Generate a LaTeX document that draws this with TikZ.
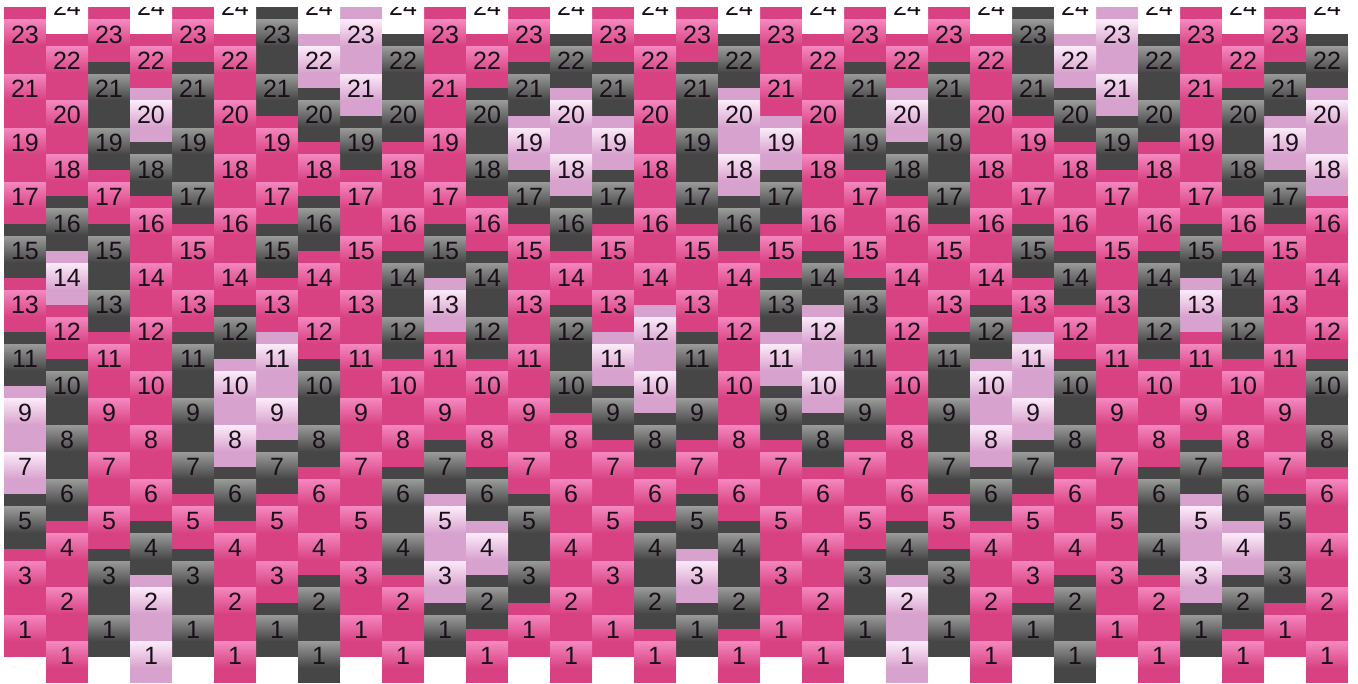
\documentclass[tikz,border=0pt]{standalone}
\usepackage{fontspec}
\setmainfont{Liberation Sans}
\definecolor{PB}{RGB}{216,66,130}
\definecolor{PT}{RGB}{244,134,190}
\definecolor{DB}{RGB}{70,70,70}
\definecolor{DT}{RGB}{152,154,152}
\definecolor{LB}{RGB}{216,162,206}
\definecolor{LT}{RGB}{252,234,249}
\definecolor{WB}{RGB}{255,255,255}
\definecolor{WT}{RGB}{255,255,255}
\definecolor{numc}{RGB}{25,15,25}
\newcommand\mybead[5]{% #1 column, #2 top, #3 colour code, #4 label, #5 node name
  \pgfmathsetmacro\bx{4+42*#1}%
  \fill[fill=#3B] (\bx,#2) rectangle ++(42,54.1);
  \shade[top color=#3T, bottom color=#3B] (\bx,#2+12.5) rectangle ++(42,26);
  \node[beadlabel] (#5) at (\bx+21,#2+27) {#4};
}
\begin{document}
\begin{tikzpicture}[x=1pt,y=-1pt,
  beadlabel/.style={font=\fontsize{25}{25}\selectfont, text=numc, inner sep=0pt, anchor=center}]
\useasboundingbox (0,0) rectangle (1358,684);
\fill[white] (0,0) rectangle (1358,684);
\begin{scope}
\clip (0,8) rectangle (1358,684);
% columns with odd labels 23..1
\foreach \c/\lst in {
  0/{P,P,P,P,D,P,D,L,L,D,P,P},
  2/{P,D,D,P,D,D,P,P,P,P,D,D},
  4/{P,D,D,D,P,P,D,D,D,P,D,D},
  6/{D,D,P,P,D,P,L,L,D,P,P,D},
  8/{L,L,D,P,P,P,P,P,P,P,P,P},
  10/{P,P,P,P,D,L,P,P,D,L,L,D},
  12/{P,D,L,D,P,P,P,P,P,D,D,P},
  14/{P,D,L,D,P,P,L,D,P,P,P,P},
  16/{P,D,D,D,P,P,D,D,P,D,L,D},
  18/{P,P,L,D,P,D,L,D,P,P,P,P},
  20/{P,D,D,P,P,D,D,D,P,P,D,D},
  22/{P,D,D,D,P,P,D,D,D,P,D,D},
  24/{D,D,P,P,D,P,L,L,D,P,P,D},
  26/{L,L,D,P,P,P,P,P,P,P,P,P},
  28/{P,P,P,P,D,L,P,P,D,L,L,D},
  30/{P,D,L,D,P,P,P,P,P,D,D,P}}{
  \foreach \col [count=\k] in \lst {
    \pgfmathtruncatemacro\lab{25-2*\k}
    \pgfmathsetmacro\tp{7.5+54.1*(\k-1)}
    \mybead{\c}{\tp}{\col}{\lab}{b\c-\k}
  }
}
% columns with even labels 24..2 and 1
\foreach \c/\lst in {
  1/{P,P,P,D,L,P,D,D,D,P,P,P},
  3/{P,L,D,P,P,P,P,P,P,D,L,L},
  5/{P,P,P,P,P,D,L,L,D,P,P,P},
  7/{L,D,P,D,P,P,D,D,P,P,D,D},
  9/{D,D,P,P,D,D,P,P,D,D,P,P},
  11/{P,D,D,P,D,D,P,P,D,L,D,P},
  13/{D,L,L,D,P,D,D,P,P,P,P,P},
  15/{P,P,P,P,P,L,L,D,P,D,D,P},
  17/{D,L,L,D,P,P,P,P,P,D,D,P},
  19/{P,P,P,P,D,L,L,D,P,P,P,P},
  21/{P,L,D,P,P,P,P,P,P,D,L,L},
  23/{P,P,P,P,P,D,L,L,D,P,P,P},
  25/{L,D,P,P,D,P,D,D,P,P,D,D},
  27/{D,D,P,P,D,D,P,P,D,D,P,P},
  29/{P,D,D,P,D,D,P,P,D,L,D,P},
  31/{D,L,L,P,P,P,D,D,P,P,P,P}}{
  \mybead{\c}{-19.9}{W}{24}{b\c-0}
  \foreach \col [count=\k] in \lst {
    \pgfmathtruncatemacro\lab{\k<12 ? 24-2*\k : 1}
    \pgfmathsetmacro\tp{-19.9+54.1*\k}
    \mybead{\c}{\tp}{\col}{\lab}{b\c-\k}
  }
}
\end{scope}
\end{tikzpicture}
\end{document}
